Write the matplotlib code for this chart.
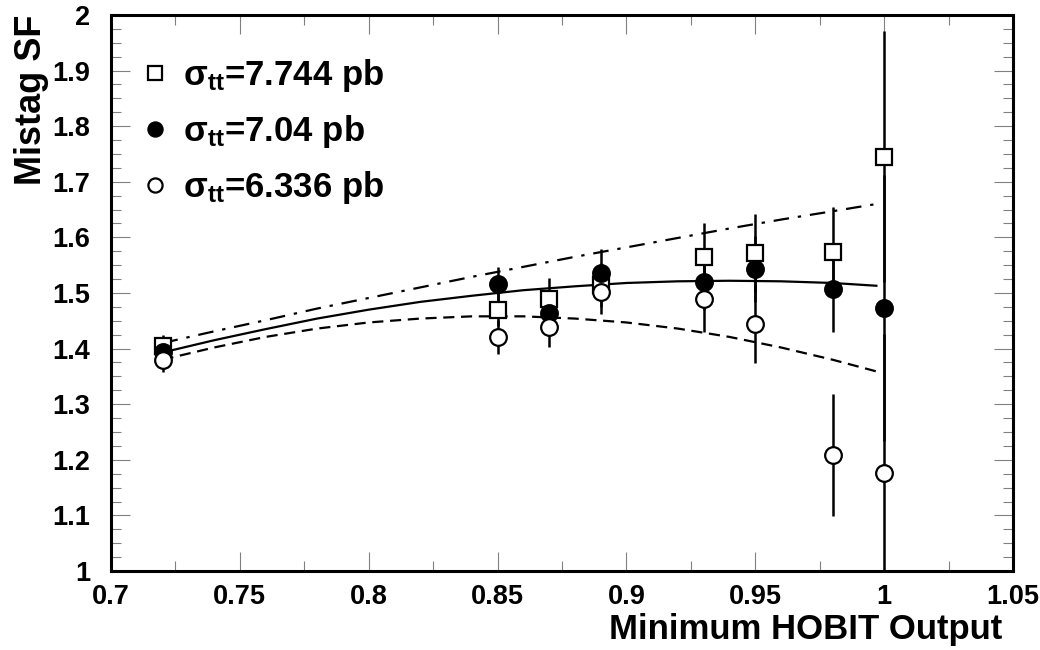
import numpy as np
import matplotlib
matplotlib.use("Agg")
import matplotlib.pyplot as plt
from matplotlib.ticker import MultipleLocator, FuncFormatter

plt.rcParams['font.family'] = ['Liberation Sans', 'DejaVu Sans']
plt.rcParams['font.weight'] = 'bold'
plt.rcParams['mathtext.fontset'] = 'custom'
plt.rcParams['mathtext.rm'] = 'Liberation Sans:bold'
plt.rcParams['mathtext.bf'] = 'Liberation Sans:bold'
plt.rcParams['mathtext.it'] = 'Liberation Sans:bold'

# data points (cut value, scale factor, error)
cuts = [0.72, 0.85, 0.87, 0.89, 0.93, 0.95, 0.98, 1.0]
sf_hi = [1.405, 1.470, 1.489, 1.514, 1.565, 1.572, 1.574, 1.745]
err_hi = [0.02, 0.03, 0.038, 0.04, 0.06, 0.07, 0.08, 0.226]
sf_nom = [1.393, 1.516, 1.464, 1.536, 1.520, 1.543, 1.507, 1.473]
err_nom = [0.02, 0.03, 0.036, 0.043, 0.05, 0.06, 0.077, 0.24]
sf_lo = [1.380, 1.421, 1.439, 1.502, 1.489, 1.444, 1.209, 1.176]
err_lo = [0.022, 0.031, 0.036, 0.04, 0.06, 0.07, 0.11, 0.25]

# fitted curves
fit_x = [0.72, 0.74, 0.76, 0.78, 0.80, 0.82, 0.84, 0.86, 0.88, 0.90,
         0.92, 0.94, 0.96, 0.98, 0.997]
fit_hi = [1.410, 1.431, 1.451, 1.472, 1.491, 1.510, 1.529, 1.547, 1.565,
          1.582, 1.599, 1.616, 1.632, 1.647, 1.660]
fit_nom = [1.393, 1.415, 1.435, 1.454, 1.470, 1.484, 1.495, 1.505, 1.512,
           1.518, 1.521, 1.522, 1.521, 1.518, 1.513]
fit_lo = [1.380, 1.402, 1.421, 1.436, 1.447, 1.454, 1.458, 1.458, 1.454,
          1.447, 1.436, 1.421, 1.402, 1.380, 1.359]

labels = [r'σ$_{\mathbf{tt}}$=7.744 pb', r'σ$_{\mathbf{tt}}$=7.04 pb',
          r'σ$_{\mathbf{tt}}$=6.336 pb']

fig = plt.figure(figsize=(10.4, 6.5), dpi=100)
ax = fig.add_axes([0.1067, 0.1215, 0.8673, 0.8555])

ax.plot(fit_x, fit_hi, color='black', lw=1.6, dashes=(7, 4, 1.5, 4))
ax.plot(fit_x, fit_nom, color='black', lw=1.6)
ax.plot(fit_x, fit_lo, color='black', lw=1.6, dashes=(5, 3))

series = [(sf_hi, err_hi, 's', 'white'),
          (sf_nom, err_nom, 'o', 'black'),
          (sf_lo, err_lo, 'o', 'white')]
handles = []
for (y, e, m, fc), lab in zip(series, labels):
    ax.errorbar(cuts, y, yerr=e, fmt='none', ecolor='black', elinewidth=1.8,
                capsize=0, zorder=3)
    h, = ax.plot(cuts, y, ls='none', marker=m, ms=12, mfc=fc, mec='black',
                 mew=1.6, zorder=4, label=lab)
    handles.append(h)

leg = ax.legend(handles=handles, loc='upper left', bbox_to_anchor=(0.0377, 0.925),
                frameon=False, fontsize=25, handlelength=0.6, handletextpad=0.5,
                labelspacing=0.55, markerscale=0.85, borderaxespad=0, borderpad=0)

ax.set_xlim(0.7, 1.05)
ax.set_ylim(1.0, 2.0)
ax.xaxis.set_major_locator(MultipleLocator(0.05))
ax.xaxis.set_minor_locator(MultipleLocator(0.025))
ax.yaxis.set_major_locator(MultipleLocator(0.1))
ax.yaxis.set_minor_locator(MultipleLocator(0.025))
fmt = FuncFormatter(lambda v, p: '%g' % round(v, 3))
ax.xaxis.set_major_formatter(fmt)
ax.yaxis.set_major_formatter(fmt)
ax.tick_params(which='both', direction='in', top=True, right=True,
               colors='black', labelsize=19.5)
ax.tick_params(which='major', length=14, width=0.8, color='0.5')
ax.tick_params(axis='y', which='major', pad=15)
ax.tick_params(axis='x', which='major', pad=9)
ax.tick_params(which='minor', length=7, width=0.8, color='0.5')
for s in ax.spines.values():
    s.set_linewidth(2.2)

ax.set_xlabel('Minimum HOBIT Output', fontsize=25, fontweight='bold')
ax.xaxis.set_label_coords(0.988, -0.075)
ax.xaxis.label.set_ha('right')
ax.set_ylabel('Mistag SF', fontsize=26, fontweight='bold')
ax.yaxis.set_label_coords(-0.0876, 1.0)
ax.yaxis.label.set_ha('right')
ax.yaxis.label.set_va('center')

fig.savefig('out.png', dpi=100)
